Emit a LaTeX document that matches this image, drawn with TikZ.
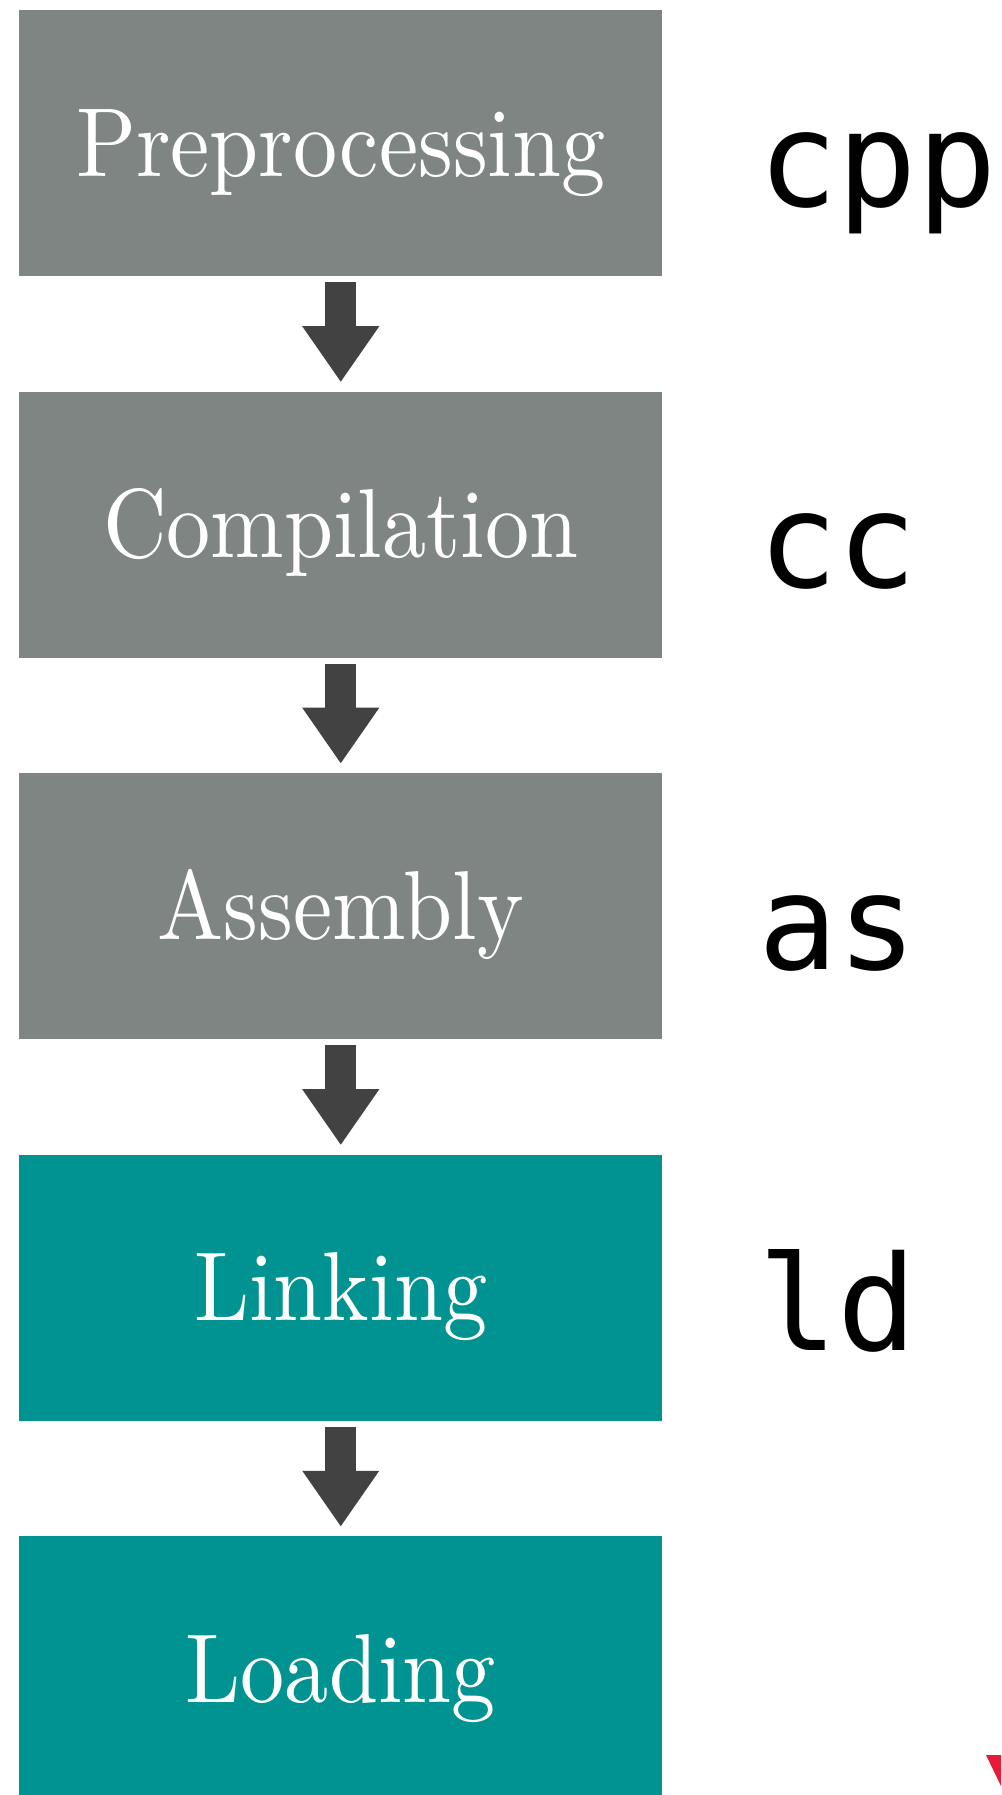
\documentclass[tikz,border=0pt]{standalone}
\usepackage{fontspec}
\usetikzlibrary{arrows.meta}
\newfontfamily\stagefont[FakeStretch=0.9]{lmroman10-regular.otf}
\newfontfamily\toolfont{DejaVu Sans Mono}
\definecolor{stagegray}{RGB}{127,133,130}
\definecolor{stageteal}{RGB}{0,147,145}
\definecolor{arrowdark}{RGB}{66,66,66}
\definecolor{logored}{RGB}{232,26,58}
\tikzset{
  stagebox/.style={rectangle, inner sep=0pt, minimum width=481.9pt, minimum height=199.5pt,
    text=white, text height=50pt, text depth=0pt,
    font=\stagefont\fontsize{73.5}{73.5}\selectfont},
  compile/.style={stagebox, fill=stagegray},
  runtime/.style={stagebox, fill=stageteal},
  toolname/.style={anchor=base west, inner sep=0pt, text=black,
    font=\toolfont\fontsize{99}{99}\selectfont},
  flowarrow/.style={draw=arrowdark, line width=23.25pt, line cap=butt,
    shorten <=4.5pt, shorten >=6.75pt,
    -{Triangle[width=54.75pt, length=42pt, fill=arrowdark]}}
}
\begin{document}
\begin{tikzpicture}[x=0.75pt, y=-0.75pt]
  \useasboundingbox (0,0) rectangle (1001,1795);
  \begin{scope}
    \clip (0,0) rectangle (1001,1795);
    % pipeline stages
    \node[compile] (pre)  at (340.75,143)    {Preprocessing};
    \node[compile] (comp) at (340.75,524.5)  {Compilation};
    \node[compile] (asm)  at (340.75,906)    {Assembly};
    \node[runtime] (link) at (340.75,1287.5) {Linking};
    \node[runtime] (load) at (340.75,1669)   {Loading};
    % arrows between stages
    \draw[flowarrow] (pre)  -- (comp);
    \draw[flowarrow] (comp) -- (asm);
    \draw[flowarrow] (asm)  -- (link);
    \draw[flowarrow] (link) -- (load);
    % tool names
    \node[toolname] (cpp) at (758,206)    {cpp};
    \node[toolname] (cc)  at (758,587.5)  {cc};
    \node[toolname] (as)  at (758,969)    {as};
    \node[toolname] (ld)  at (758,1350.5) {ld};
    % corner mark
    \fill[logored] (986,1755) -- (1001,1755) -- (1001,1786) -- cycle;
  \end{scope}
\end{tikzpicture}
\end{document}
